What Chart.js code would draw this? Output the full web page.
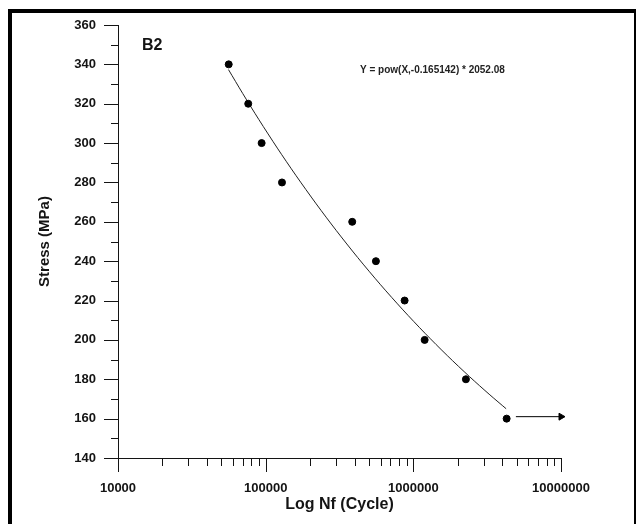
<!doctype html>
<html lang="en">
<head>
<title>B2 S-N curve</title>
<meta charset="UTF-8" />
<style>
  body { margin: 0; background: #ffffff; }
  canvas { display: block; }
</style>
</head>
<body>
<canvas id="canvas" width="636" height="524"></canvas>

<script src="https://cdn.jsdelivr.net/npm/chart.js"></script>
<script>
// test results, specimen B2
const cycles = [56200, 76200, 93900, 129000, 385600, 558000, 873000, 1193000, 2270000, 4285000]
const stress = [340, 320, 300, 280, 260, 240, 220, 200, 180, 160]

// power-law fit Y = pow(X, b) * a
const fitA = 2052.08
const fitB = -0.165142
const fitCycles = [56000, 70000, 90000, 120000, 160000, 220000, 300000, 420000, 600000, 850000, 1200000, 1700000, 2400000, 3300000, 4250000]

// run-out arrow on the last specimen
const runoutCycles = [4950000, 10000000]
const runoutStress = [161, 161]

const xDecades = [10000, 100000, 1000000, 10000000]
const xMinor = [2, 3, 4, 5, 6, 7, 8, 9]
const yMin = 140, yMax = 360, yStep = 20

const FONT = "'Liberation Sans', Arial, sans-serif"
const INK = '#141414'

const frame = {
  id: 'frame',
  beforeDraw: (chart) => {
    const {ctx} = chart
    ctx.save()
    ctx.fillStyle = '#ffffff'
    ctx.fillRect(0, 0, chart.width, chart.height)
    ctx.fillStyle = '#000000'
    ctx.fillRect(8, 9, 628, 4)   // top
    ctx.fillRect(8, 9, 4, 515)   // left
    ctx.fillRect(634, 9, 2, 515) // right
    ctx.restore()
  }
}

// outside tick marks, long for majors and short for minors
const tickMarks = {
  id: 'tickMarks',
  afterDraw: (chart) => {
    const {ctx} = chart
    const x = chart.scales.x, y = chart.scales.y
    ctx.save()
    ctx.strokeStyle = INK
    ctx.lineWidth = 1
    ctx.beginPath()
    for (let v = yMin; v <= yMax; v += yStep / 2) {
      let py = Math.round(y.getPixelForValue(v)) + 0.5
      let len = (v - yMin) % yStep === 0 ? 14 : 7
      ctx.moveTo(x.left - len, py); ctx.lineTo(x.left, py)
    }
    xDecades.forEach((d, i) => {
      let px = Math.round(x.getPixelForValue(d)) + 0.5
      ctx.moveTo(px, y.bottom); ctx.lineTo(px, y.bottom + 14)
      if (i == xDecades.length - 1) return
      xMinor.forEach(m => {
        let mx = Math.round(x.getPixelForValue(d * m)) + 0.5
        ctx.moveTo(mx, y.bottom); ctx.lineTo(mx, y.bottom + 8)
      })
    })
    ctx.stroke()

    ctx.fillStyle = INK
    ctx.font = 'bold 16px ' + FONT
    ctx.textBaseline = 'middle'
    ctx.fillText('B2', 142, 46)
    ctx.font = 'bold 10px ' + FONT
    ctx.fillStyle = '#222222'
    ctx.fillText('Y = pow(X,-0.165142) * 2052.08', 360, 70)
    ctx.restore()
  }
}

const points = {
  type: 'scatter',
  data: cycles.map((c, i) => ({x: c, y: stress[i]})),
  backgroundColor: '#000000',
  borderColor: '#000000',
  pointRadius: 3.5,
  pointHoverRadius: 3.5,
  order: 1
}
const fit = {
  type: 'line',
  data: fitCycles.map(c => ({x: c, y: Math.pow(c, fitB) * fitA})),
  borderColor: '#222222',
  borderWidth: 1,
  pointRadius: 0,
  tension: 0.3,
  fill: false,
  order: 2
}
const runout = {
  type: 'line',
  data: runoutCycles.map((c, i) => ({x: c, y: runoutStress[i]})),
  borderColor: '#000000',
  backgroundColor: '#000000',
  borderWidth: 1,
  pointStyle: 'triangle',
  pointRotation: 90,
  pointRadius: [0, 4],
  fill: false,
  clip: false,
  order: 0
}

new Chart(document.getElementById('canvas'), {
  data: { datasets: [points, fit, runout] },
  options: {
    responsive: false,
    animation: false,
    events: [],
    layout: { padding: { top: 25, right: 75, left: 0, bottom: 0 } },
    plugins: { legend: { display: false }, tooltip: { enabled: false } },
    scales: {
      x: {
        type: 'logarithmic',
        min: 10000,
        max: 10000000,
        afterBuildTicks: s => { s.ticks = xDecades.map(v => ({value: v})) },
        afterFit: s => { s.height = 66 },
        grid: { display: false },
        border: { display: true, color: INK, width: 1 },
        ticks: { color: INK, padding: 15, maxRotation: 0, font: { family: FONT, size: 13, weight: 'bold' }, callback: v => String(v) },
        title: { display: true, text: 'Log Nf (Cycle)', color: INK, padding: { top: 0, bottom: 10 }, font: { family: FONT, size: 16, weight: 'bold' } }
      },
      y: {
        min: yMin,
        max: yMax,
        afterFit: s => { s.width = 118 },
        grid: { display: false },
        border: { display: true, color: INK, width: 1 },
        ticks: { stepSize: yStep, color: INK, padding: 14, font: { family: FONT, size: 13, weight: 'bold' } },
        title: { display: true, text: 'Stress (MPa)', color: INK, padding: { top: 36, bottom: 0 }, font: { family: FONT, size: 15, weight: 'bold' } }
      }
    }
  },
  plugins: [frame, tickMarks]
})
</script>
</body>
</html>
